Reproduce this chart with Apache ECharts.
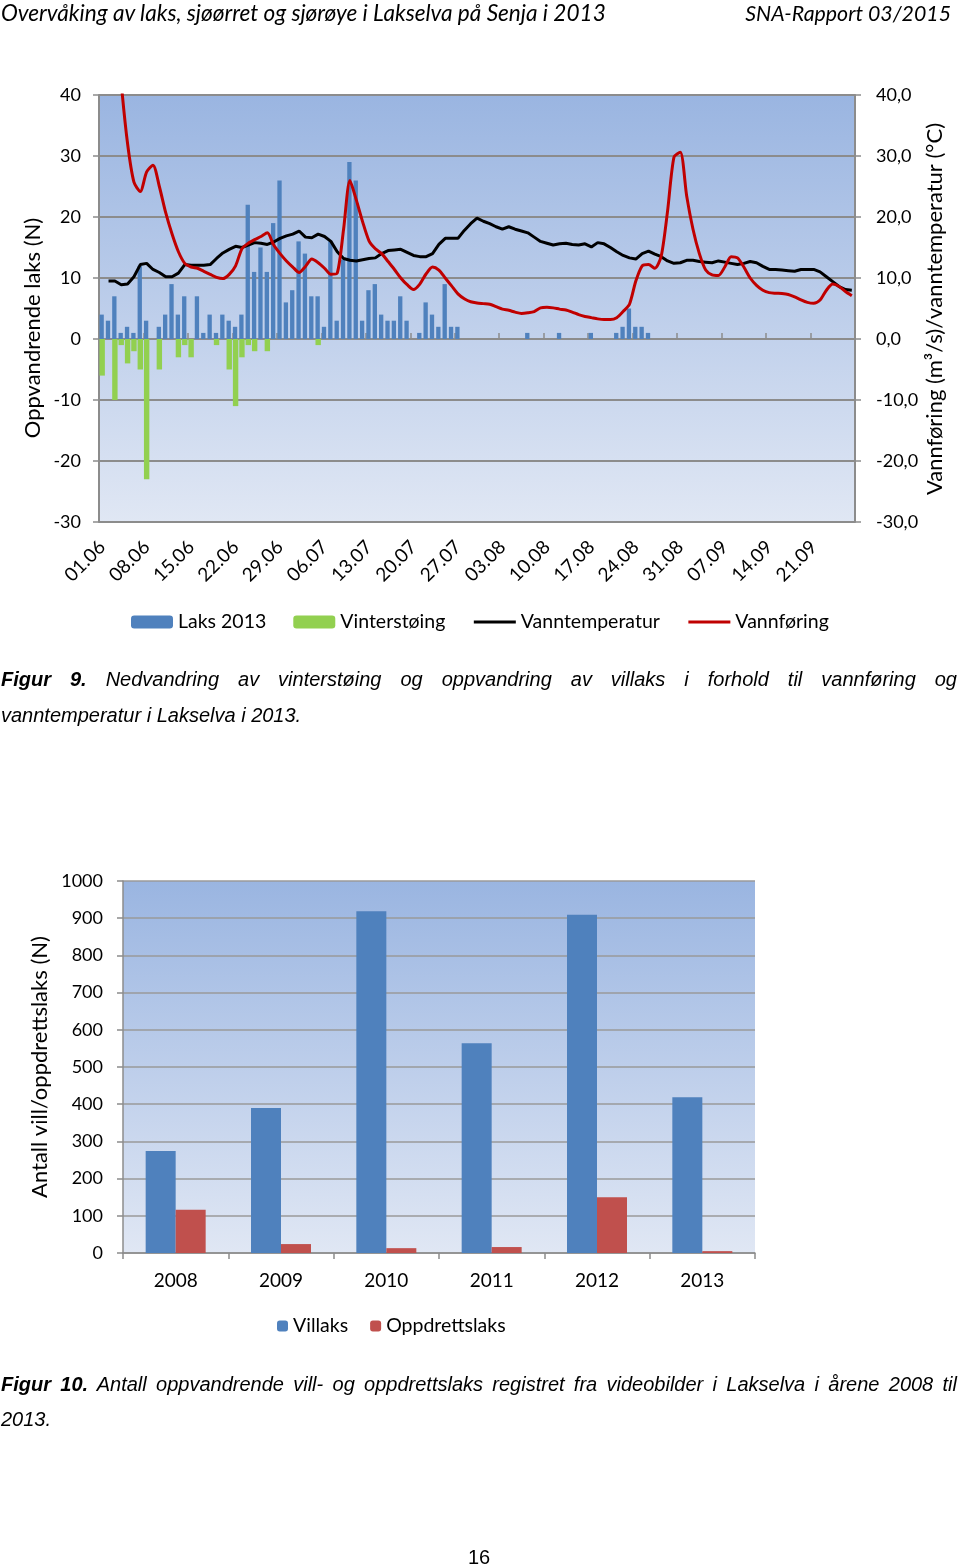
<!DOCTYPE html>
<html><head><meta charset="utf-8">
<script src="https://cdn.jsdelivr.net/npm/echarts@6/dist/echarts.min.js"></script>
<style>
body{margin:0;width:960px;height:1568px;background:#fff;position:relative;overflow:hidden;}
#chart{position:absolute;left:0;top:0;width:960px;height:1568px;}
.t{position:absolute;white-space:nowrap;color:#000;}
.hdr{font-family:Lato,sans-serif;font-style:italic;top:0px;line-height:26px;}
.cap{font-family:"Liberation Sans",Arial,sans-serif;font-style:italic;font-size:20px;left:1px;width:956px;line-height:24px;}
.just{text-align:justify;text-align-last:justify;white-space:normal;}
.pg{font-family:"Liberation Sans",Arial,sans-serif;font-size:20px;left:0;width:958px;text-align:center;top:1546px;}
</style></head>
<body>
<div id="chart"></div>
<div class="t hdr" style="left:1px;font-size:22.6px;">Overvåking av laks, sjøørret og sjørøye i Lakselva på Senja i 2013</div>
<div class="t hdr" style="right:9px;font-size:21.3px;">SNA-Rapport 03/2015</div>
<div class="t cap just" style="top:667px;"><b>Figur 9.</b> Nedvandring av vinterstøing og oppvandring av villaks i forhold til vannføring og</div>
<div class="t cap" style="top:703px;">vanntemperatur i Lakselva i 2013.</div>
<div class="t cap just" style="top:1372px;"><b>Figur 10.</b> Antall oppvandrende vill- og oppdrettslaks registret fra videobilder i Lakselva i årene 2008 til</div>
<div class="t cap" style="top:1407px;">2013.</div>
<div class="t pg">16</div>
<script>
// ---- Figure 9 data ----
const monthDays = [['06',30],['07',31],['08',31],['09',27]];
const dates = [];
monthDays.forEach(function(m){ for(let d=1; d<=m[1]; d++){ dates.push((d<10?'0':'')+d+'.'+m[0]); } });

const laks = [
 4,3,7,1,2,1,12,3,null,2,
 4,9,4,7,null,7,1,4,1,4,
 3,2,4,22,11,15,11,19,26,6,
 8,16,14,7,7,2,16,3,13,29,
 26,3,8,9,4,3,3,7,3,null,
 1,6,4,2,9,2,2,null,null,null,
 null,null,null,null,null,null,null,1,null,null,
 null,null,1,null,null,null,null,1,null,null,
 null,1,2,5,2,2,1,null,null,null,
 null,null,null,null,null,null,null,null,null,null,
 null,null,null,null,null,null,null,null,null,null,
 null,null,null,null,null,null,null,null,null
];
const vinter = [
 -6,null,-10,-1,-4,-2,-5,-23,null,-5,
 null,null,-3,-1,-3,null,null,null,-1,null,
 -5,-11,-3,-1,-2,null,-2,null,null,null,
 null,null,null,null,-1
];
const temp = [
 null,9.5,9.5,8.9,9.0,10.2,12.2,12.4,11.4,10.9,
 10.2,10.2,10.8,12.2,12.1,12.1,12.1,12.2,13.2,14.1,
 14.7,15.2,15.0,15.4,15.8,15.7,15.5,15.9,16.5,16.9,
 17.2,17.7,16.7,16.6,17.2,16.8,16.0,14.3,13.2,12.9,
 12.8,13.0,13.2,13.3,14.0,14.5,14.6,14.7,14.2,13.7,
 13.5,13.5,14.0,15.5,16.5,16.5,16.5,17.8,18.9,19.8,
 19.3,18.9,18.4,18.0,18.4,18.0,17.7,17.4,16.7,16.0,
 15.7,15.4,15.6,15.7,15.5,15.4,15.6,15.1,15.8,15.6,
 15.0,14.3,13.7,13.3,13.1,14.0,14.4,13.9,13.5,12.8,
 12.4,12.5,12.9,12.9,12.7,12.6,12.5,12.8,12.6,12.4,
 12.2,12.4,12.7,12.5,11.9,11.4,11.4,11.3,11.2,11.1,
 11.4,11.4,11.4,11.0,10.2,9.4,8.6,8.1,8.0
];
const flow = [
 null,null,55,42,32,25.7,24.2,27.4,28.5,25.0,
 20.7,17.2,14.3,12.4,11.8,11.6,11.1,10.6,10.1,9.9,
 10.6,12.0,14.8,15.7,16.3,16.8,17.4,15.4,14.0,12.8,
 11.8,10.9,11.9,13.1,12.5,11.6,10.6,10.8,18.0,26.0,
 22.8,19.2,16.1,14.8,14.0,12.7,11.4,10.0,8.9,8.1,
 9.0,10.7,11.8,11.3,10.0,8.7,7.4,6.6,6.1,5.9,
 5.8,5.7,5.3,4.9,4.7,4.4,4.2,4.3,4.5,5.1,
 5.2,5.1,4.9,4.75,4.4,4.0,3.7,3.5,3.3,3.2,
 3.2,3.5,4.5,5.7,9.5,12.0,12.2,11.6,13.6,21.0,
 29.8,30.6,23.5,18.0,14.0,11.3,10.5,10.4,11.8,13.5,
 13.3,11.8,10.0,8.8,8.0,7.6,7.5,7.45,7.3,6.9,
 6.4,6.0,5.85,6.4,8.0,9.0,8.6,7.8,7.1
];

// ---- Figure 10 data ----
const years = ['2008','2009','2010','2011','2012','2013'];
const villaks = [274, 390, 919, 564, 909, 419];
const oppdrett = [116, 24, 13, 16, 150, 5];

const FONT = 'Lato';
const GRID_C = '#8c8c8c';
function bg(){ return {type:'linear',x:0,y:0,x2:0,y2:1,colorStops:[{offset:0,color:'#9ab5e1'},{offset:1,color:'#e0e7f4'}]}; }
const legTxt = {fontFamily:FONT, fontSize:19.5, color:'#000'};

const chart = echarts.init(document.getElementById('chart'), null, {renderer:'canvas'});
chart.setOption({
  animation:false,
  textStyle:{fontFamily:FONT},
  grid:[
    {left:99, top:95, width:756, height:427, show:true, backgroundColor:bg(), borderWidth:0},
    {left:123, top:881, width:632, height:372, show:true, backgroundColor:bg(), borderWidth:0}
  ],
  legend:[
    {data:['Laks 2013','Vinterstøing',
           {name:'Vanntemperatur', itemStyle:{opacity:0}, lineStyle:{width:3}},
           {name:'Vannføring', itemStyle:{opacity:0}, lineStyle:{width:3}}],
     left:126, top:607, itemWidth:42, itemHeight:13, itemGap:27, textStyle:legTxt},
    {data:['Villaks','Oppdrettslaks'], left:272, top:1311, itemWidth:11, itemHeight:11, itemGap:22, textStyle:legTxt}
  ],
  xAxis:[
    {gridIndex:0, type:'category', data:dates, boundaryGap:true,
     axisLine:{show:false, onZero:false}, axisTick:{show:false},
     axisLabel:{interval:6, rotate:45, margin:22, fontFamily:FONT, fontSize:19, color:'#000'},
     splitLine:{show:false}},
    {gridIndex:0, type:'category', data:dates, boundaryGap:true,
     axisLine:{show:true, onZero:true, onZeroAxisIndex:0, lineStyle:{color:GRID_C, width:2}},
     axisTick:{show:true, interval:6, length:6, lineStyle:{color:GRID_C, width:1.5}},
     axisLabel:{show:false}, splitLine:{show:false}},
    {gridIndex:1, type:'category', data:years, boundaryGap:true,
     axisLine:{show:true, lineStyle:{color:GRID_C, width:1.5}},
     axisTick:{show:true, length:6, lineStyle:{color:GRID_C, width:1.5}},
     axisLabel:{margin:18, fontFamily:FONT, fontSize:19, color:'#000'}}
  ],
  yAxis:[
    {gridIndex:0, type:'value', min:-30, max:40, interval:10, position:'left',
     axisLine:{show:true, lineStyle:{color:GRID_C, width:2}},
     axisTick:{show:true, length:6, lineStyle:{color:GRID_C, width:1.5}},
     axisLabel:{margin:18, fontFamily:FONT, fontSize:18, color:'#000'},
     splitLine:{show:true, lineStyle:{color:GRID_C, width:2}}},
    {gridIndex:0, type:'value', min:-30, max:40, interval:10, position:'right',
     axisLine:{show:true, lineStyle:{color:GRID_C, width:2}},
     axisTick:{show:true, length:6, lineStyle:{color:GRID_C, width:1.5}},
     axisLabel:{margin:21, fontFamily:FONT, fontSize:18, color:'#000',
       formatter:function(v){ return v.toFixed(1).replace('.', ','); }},
     splitLine:{show:false}},
    {gridIndex:1, type:'value', min:0, max:1000, interval:100,
     axisLine:{show:true, lineStyle:{color:GRID_C, width:1.5}},
     axisTick:{show:true, length:6, lineStyle:{color:GRID_C, width:1.5}},
     axisLabel:{margin:20, fontFamily:FONT, fontSize:18, color:'#000',
       formatter:function(v){ return String(v); }},
     splitLine:{show:true, lineStyle:{color:'#9a9a9a', width:1.5}}}
  ],
  graphic:[
    {type:'text', x:33, y:328, rotation:Math.PI/2, style:{text:'Oppvandrende laks (N)', x:0, y:0, align:'center', verticalAlign:'middle', font:'22px Lato', fill:'#000'}},
    {type:'text', x:935, y:309, rotation:Math.PI/2, style:{text:'Vannføring (m³/s)/vanntemperatur (°C)', x:0, y:0, align:'center', verticalAlign:'middle', font:'22px Lato', fill:'#000'}},
    {type:'text', x:40, y:1067, rotation:Math.PI/2, style:{text:'Antall vill/oppdrettslaks (N)', x:0, y:0, align:'center', verticalAlign:'middle', font:'22px Lato', fill:'#000'}}
  ],
  series:[
    {name:'Laks 2013', type:'bar', xAxisIndex:0, yAxisIndex:0, data:laks, barWidth:'68%', barGap:'-100%', itemStyle:{color:'#4f81bd'}},
    {name:'Vinterstøing', type:'bar', xAxisIndex:0, yAxisIndex:0, data:vinter, barWidth:'85%', barGap:'-100%', itemStyle:{color:'#92d050'}},
    {name:'Vanntemperatur', type:'line', xAxisIndex:0, yAxisIndex:1, data:temp, symbol:'none', lineStyle:{color:'#000', width:3}, itemStyle:{color:'#000'}},
    {name:'Vannføring', type:'line', xAxisIndex:0, yAxisIndex:1, data:flow, symbol:'none', smooth:0.25, lineStyle:{color:'#c00000', width:3}, itemStyle:{color:'#c00000'}},
    {name:'Villaks', type:'bar', xAxisIndex:2, yAxisIndex:2, data:villaks, barWidth:30, barGap:'0%', itemStyle:{color:'#4f81bd'}},
    {name:'Oppdrettslaks', type:'bar', xAxisIndex:2, yAxisIndex:2, data:oppdrett, barWidth:30, barGap:'0%', itemStyle:{color:'#c0504d'}}
  ]
});
</script>
</body></html>
